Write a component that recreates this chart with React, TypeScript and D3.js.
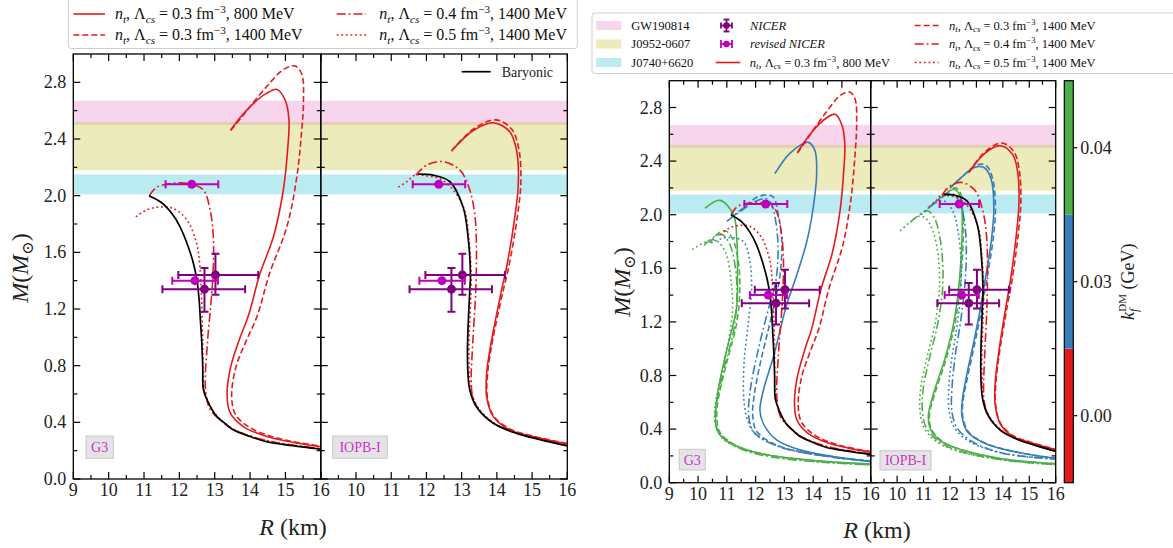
import React from 'react';
import * as d3 from 'd3';

type P = [number, number];

// ---------- data (R in km, M in Msun) ----------
const g3Baryonic: P[] = [[11.14,2.0],[11.5,1.95],[11.8,1.87],[12.02,1.78],[12.25,1.64],[12.4,1.52],[12.5,1.4],[12.56,1.26],[12.6,1.1],[12.63,0.98],[12.66,0.8],[12.68,0.63],[12.78,0.56],[12.9,0.5],[13.06,0.44],[13.3,0.39],[13.53,0.346],[14.0,0.3],[14.47,0.263],[15.2,0.235],[16,0.21]];
const g3Red_03_800: P[] = [[13.45,2.463],[13.75,2.56],[14.09,2.65],[14.45,2.72],[14.76,2.75],[15.0,2.67],[15.1,2.53],[15.06,2.32],[14.94,2.04],[14.66,1.71],[14.28,1.45],[13.95,1.15],[13.72,1.0],[13.45,0.79],[13.35,0.6],[13.43,0.47],[13.81,0.37],[14.47,0.3],[15.2,0.26],[16,0.228]];
const g3Red_03_1400: P[] = [[13.45,2.46],[13.75,2.55],[14.0,2.63],[14.47,2.77],[14.94,2.89],[15.27,2.915],[15.46,2.86],[15.51,2.67],[15.46,2.46],[15.32,2.13],[15.04,1.78],[14.55,1.45],[14.2,1.15],[13.9,0.98],[13.6,0.79],[13.48,0.58],[13.6,0.45],[14.09,0.35],[14.94,0.278],[16,0.232]];
const g3Red_04_1400: P[] = [[11.15,2.0],[11.36,2.06],[11.93,2.09],[12.35,2.08],[12.68,2.04],[12.87,1.9],[12.96,1.71],[12.96,1.5],[12.9,1.26],[12.8,0.98],[12.74,0.63],[12.87,0.49],[13.1,0.43],[13.53,0.35],[14.5,0.27],[16,0.215]];
const g3Red_05_1400: P[] = [[10.77,1.85],[11.08,1.9],[11.45,1.92],[11.83,1.91],[12.21,1.83],[12.49,1.66],[12.58,1.5],[12.63,1.26],[12.66,0.98],[12.7,0.63],[12.82,0.54],[13.08,0.44],[13.55,0.35],[14.5,0.268],[16,0.213]];

const iopbBaryonic: P[] = [[11.77,2.152],[12.19,2.145],[12.66,2.1],[13.04,1.92],[13.18,1.71],[13.25,1.43],[13.23,1.33],[13.17,0.98],[13.17,0.79],[13.23,0.63],[13.42,0.51],[13.9,0.393],[14.56,0.322],[15.2,0.28],[16,0.233]];
const iopbRed_03_800: P[] = [[12.71,2.315],[13.33,2.46],[13.9,2.515],[14.37,2.45],[14.56,2.32],[14.61,2.09],[14.51,1.85],[14.28,1.5],[14.13,1.33],[13.85,0.98],[13.71,0.746],[13.71,0.58],[13.9,0.44],[14.37,0.346],[15.03,0.3],[16,0.247]];
const iopbRed_03_1400: P[] = [[12.71,2.315],[13.33,2.47],[13.97,2.535],[14.42,2.47],[14.63,2.32],[14.68,2.09],[14.58,1.85],[14.34,1.5],[14.18,1.33],[13.88,0.98],[13.74,0.75],[13.73,0.58],[13.92,0.44],[14.4,0.35],[15.05,0.302],[16,0.25]];
const iopbRed_04_1400: P[] = [[11.7,2.145],[12.0,2.215],[12.47,2.24],[12.95,2.18],[13.23,2.04],[13.38,1.85],[13.42,1.62],[13.4,1.33],[13.32,0.98],[13.27,0.7],[13.3,0.6],[13.45,0.5],[13.9,0.395],[14.56,0.325],[16,0.236]];
const iopbRed_05_1400: P[] = [[11.2,2.06],[11.45,2.1],[11.67,2.145],[12.0,2.14],[12.37,2.12],[12.76,2.04],[13.08,1.9],[13.2,1.71],[13.27,1.43],[13.21,0.98],[13.21,0.79],[13.26,0.63],[13.45,0.51],[13.92,0.395],[14.58,0.324],[16,0.235]];

const g3Blue_03_800: P[] = [[12.67,2.307],[13.2,2.46],[13.83,2.54],[14.06,2.48],[14.12,2.3],[14.0,2.05],[13.78,1.8],[13.43,1.55],[13.08,1.33],[12.91,1.19],[12.62,0.94],[12.27,0.69],[12.15,0.54],[12.27,0.44],[12.73,0.32],[13.54,0.245],[14.7,0.195],[16,0.157]];
const g3Blue_03_1400: P[] = [[11.17,1.98],[11.57,2.05],[12.04,2.13],[12.39,2.147],[12.62,2.13],[12.79,2.0],[12.91,1.8],[12.85,1.55],[12.7,1.38],[12.45,1.15],[12.15,0.88],[11.95,0.65],[11.9,0.5],[12.05,0.38],[12.85,0.27],[14.7,0.19],[16,0.163]];
const g3Blue_04_1400: P[] = [[11.0,1.95],[11.5,2.03],[12.0,2.1],[12.35,2.12],[12.55,2.08],[12.7,1.95],[12.78,1.75],[12.7,1.5],[12.45,1.3],[12.1,1.0],[11.82,0.7],[11.76,0.5],[11.93,0.38],[12.8,0.27],[14.7,0.19],[16,0.162]];
const g3Blue_05_1400: P[] = [[10.45,1.79],[11.0,1.83],[11.57,1.8],[11.8,1.65],[11.86,1.45],[11.75,1.2],[11.6,0.9],[11.6,0.6],[11.75,0.45],[12.0,0.36],[12.85,0.27],[14.7,0.19],[16,0.16]];
const g3Green_03_800: P[] = [[10.24,2.047],[10.76,2.107],[11.23,2.0],[11.35,1.8],[11.37,1.55],[11.35,1.33],[11.23,1.19],[10.94,0.94],[10.7,0.69],[10.6,0.5],[10.65,0.4],[10.88,0.33],[11.82,0.235],[13.56,0.175],[16,0.14]];
const g3Green_03_1400: P[] = [[10.4,1.79],[10.7,1.86],[10.95,1.88],[11.2,1.82],[11.4,1.65],[11.45,1.45],[11.35,1.2],[11.0,0.9],[10.7,0.62],[10.65,0.5],[10.75,0.38],[11.3,0.28],[12.6,0.2],[16,0.135]];
const g3Green_04_1400: P[] = [[10.2,1.77],[10.6,1.84],[10.85,1.85],[11.1,1.78],[11.3,1.6],[11.35,1.4],[11.25,1.15],[10.9,0.85],[10.65,0.6],[10.6,0.5],[10.7,0.38],[11.3,0.27],[12.6,0.19],[16,0.133]];
const g3Green_05_1400: P[] = [[9.8,1.74],[10.2,1.79],[10.6,1.81],[10.95,1.72],[11.15,1.5],[11.2,1.3],[11.05,1.05],[10.75,0.75],[10.58,0.55],[10.62,0.42],[10.9,0.32],[11.8,0.24],[13.5,0.17],[16,0.135]];

const iopbBlue_03_800: P[] = [[12.0,2.2],[12.5,2.29],[12.95,2.355],[13.3,2.35],[13.55,2.27],[13.66,2.05],[13.56,1.8],[13.36,1.55],[13.15,1.3],[12.9,1.05],[12.63,0.8],[12.47,0.62],[12.45,0.5],[12.66,0.38],[13.35,0.29],[14.6,0.225],[16,0.182]];
const iopbBlue_03_1400: P[] = [[12.0,2.2],[12.5,2.29],[13.0,2.37],[13.35,2.37],[13.6,2.28],[13.72,2.05],[13.62,1.8],[13.42,1.55],[13.2,1.3],[12.95,1.05],[12.68,0.8],[12.5,0.62],[12.48,0.5],[12.7,0.38],[13.4,0.29],[14.6,0.225],[16,0.182]];
const iopbBlue_04_1400: P[] = [[11.2,2.05],[11.7,2.13],[12.05,2.16],[12.35,2.1],[12.55,1.95],[12.62,1.7],[12.55,1.45],[12.4,1.2],[12.2,0.95],[12.08,0.72],[12.08,0.52],[12.3,0.4],[12.9,0.3],[14,0.22],[16,0.176]];
const iopbBlue_05_1400: P[] = [[10.9,2.0],[11.4,2.08],[11.8,2.1],[12.1,2.03],[12.3,1.88],[12.42,1.65],[12.4,1.4],[12.25,1.15],[12.05,0.9],[11.95,0.7],[11.98,0.52],[12.2,0.4],[12.8,0.3],[14,0.22],[16,0.175]];
const iopbGreen_03_800: P[] = [[11.3,2.07],[11.8,2.15],[12.15,2.19],[12.38,2.14],[12.46,2.0],[12.45,1.8],[12.35,1.5],[12.15,1.2],[11.8,0.92],[11.4,0.68],[11.18,0.5],[11.26,0.4],[11.65,0.31],[12.45,0.245],[14,0.178],[16,0.142]];
const iopbGreen_03_1400: P[] = [[11.3,2.07],[11.8,2.15],[12.2,2.2],[12.42,2.15],[12.5,2.0],[12.5,1.8],[12.4,1.5],[12.2,1.2],[11.85,0.92],[11.45,0.68],[11.22,0.5],[11.3,0.4],[11.7,0.31],[12.5,0.24],[14,0.175],[16,0.14]];
const iopbGreen_04_1400: P[] = [[10.5,1.945],[10.85,2.0],[11.15,2.03],[11.4,1.98],[11.6,1.85],[11.72,1.65],[11.72,1.45],[11.55,1.2],[11.25,0.95],[11.0,0.72],[10.95,0.55],[11.08,0.42],[11.5,0.32],[12.3,0.24],[14,0.17],[16,0.135]];
const iopbGreen_05_1400: P[] = [[10.11,1.88],[10.5,1.945],[10.85,1.99],[11.1,1.97],[11.35,1.88],[11.55,1.7],[11.6,1.45],[11.45,1.2],[11.15,0.95],[10.9,0.72],[10.86,0.55],[11.0,0.42],[11.4,0.32],[12.2,0.24],[14,0.17],[16,0.135]];

// observational constraints
const bandNames = ['GW190814', 'J0952-0607', 'J0740+6620'];
const bandLo = [2.50, 2.18, 2.01];
const bandHi = [2.67, 2.52, 2.15];
const bandColors = ['#e377c2', '#bcbd22', '#17becf'];

const nicerR = [13.02, 12.71];
const nicerM = [1.44, 1.34];
const nicerRlo = [11.97, 11.52];
const nicerRhi = [14.23, 13.86];
const nicerMlo = [1.30, 1.18];
const nicerMhi = [1.59, 1.49];

const revisedR = [12.35, 12.44];
const revisedM = [2.08, 1.40];
const revisedRlo = [11.61, 11.80];
const revisedRhi = [13.10, 13.09];

const kfLabels = ['0.00', '0.03', '0.04'];
const kfColors = ['#e41a1c', '#377eb8', '#4daf4a'];

const xMajor = [9, 10, 11, 12, 13, 14, 15, 16];
const xMinor = [9.5, 10.5, 11.5, 12.5, 13.5, 14.5, 15.5];
const yMajor = [0, 0.4, 0.8, 1.2, 1.6, 2.0, 2.4, 2.8];
const yMinor = [0.2, 0.6, 1.0, 1.4, 1.8, 2.2, 2.6];

// ---------- style ----------
const RED = kfColors[0], BLUE = kfColors[1], GREEN = kfColors[2];
const PURPLE = '#800080', MAGENTA = '#bf00bf';
const SERIF = "'Liberation Serif', 'DejaVu Serif', 'Noto Serif', 'Times New Roman', Times, serif";
const FS = { fontFamily: SERIF } as React.CSSProperties;
const DASH: Record<string, string | undefined> = {
  solid: undefined,
  dashed: '6,3',
  dashdot: '9,3,1.8,3',
  dotted: '1.8,2.8',
};

type Curve = { d: P[]; c: string; s: string; w?: number };

const redG3: Curve[] = [
  { d: g3Red_03_800, c: RED, s: 'solid' },
  { d: g3Red_03_1400, c: RED, s: 'dashed' },
  { d: g3Red_04_1400, c: RED, s: 'dashdot' },
  { d: g3Red_05_1400, c: RED, s: 'dotted' },
];
const redIOPB: Curve[] = [
  { d: iopbRed_03_800, c: RED, s: 'solid' },
  { d: iopbRed_03_1400, c: RED, s: 'dashed' },
  { d: iopbRed_04_1400, c: RED, s: 'dashdot' },
  { d: iopbRed_05_1400, c: RED, s: 'dotted' },
];
const dmG3: Curve[] = [
  { d: g3Green_03_800, c: GREEN, s: 'solid' },
  { d: g3Green_03_1400, c: GREEN, s: 'dashed' },
  { d: g3Green_04_1400, c: GREEN, s: 'dashdot' },
  { d: g3Green_05_1400, c: GREEN, s: 'dotted' },
  { d: g3Blue_03_800, c: BLUE, s: 'solid' },
  { d: g3Blue_03_1400, c: BLUE, s: 'dashed' },
  { d: g3Blue_04_1400, c: BLUE, s: 'dashdot' },
  { d: g3Blue_05_1400, c: BLUE, s: 'dotted' },
];
const dmIOPB: Curve[] = [
  { d: iopbGreen_03_800, c: GREEN, s: 'solid' },
  { d: iopbGreen_03_1400, c: GREEN, s: 'dashed' },
  { d: iopbGreen_04_1400, c: GREEN, s: 'dashdot' },
  { d: iopbGreen_05_1400, c: GREEN, s: 'dotted' },
  { d: iopbBlue_03_800, c: BLUE, s: 'solid' },
  { d: iopbBlue_03_1400, c: BLUE, s: 'dashed' },
  { d: iopbBlue_04_1400, c: BLUE, s: 'dashdot' },
  { d: iopbBlue_05_1400, c: BLUE, s: 'dotted' },
];

type Panel = {
  id: string; x0: number; x1: number; y0: number; y1: number;
  label: string; box: [number, number, number, number];
  curves: Curve[]; black: P[]; yLabels: boolean; firstX: boolean;
  baryLegend?: boolean;
};

const panels: Panel[] = [
  { id: 'p1', x0: 73.3, x1: 320.8, y0: 479, y1: 54, label: 'G3', box: [86, 436, 27.3, 22.3],
    curves: redG3, black: g3Baryonic, yLabels: true, firstX: true },
  { id: 'p2', x0: 320.8, x1: 567.3, y0: 479, y1: 54, label: 'IOPB-I', box: [332.7, 436, 54.6, 22.3],
    curves: redIOPB, black: iopbBaryonic, yLabels: false, firstX: false, baryLegend: true },
  { id: 'p3', x0: 669.3, x1: 870.7, y0: 482.7, y1: 80.7, label: 'G3', box: [679.3, 449.3, 26, 20.7],
    curves: [...dmG3, ...redG3], black: g3Baryonic, yLabels: true, firstX: true },
  { id: 'p4', x0: 870.7, x1: 1055.7, y0: 482.7, y1: 80.7, label: 'IOPB-I', box: [880, 450.7, 51, 19.3],
    curves: [...dmIOPB, ...redIOPB], black: iopbBaryonic, yLabels: false, firstX: false },
];

function NtLabel({ x, y, n, l, fs }: { x: number; y: number; n: string; l: string; fs: number }) {
  const s = fs * 0.7;
  return (
    <text x={x} y={y + fs * 0.33} style={FS} fontSize={fs} fill="#111">
      <tspan fontStyle="italic">n</tspan>
      <tspan fontStyle="italic" fontSize={s} dy={fs * 0.22}>t</tspan>
      <tspan dy={-fs * 0.22}>, Λ</tspan>
      <tspan fontStyle="italic" fontSize={s} dy={fs * 0.22}>cs</tspan>
      <tspan dy={-fs * 0.22}>{` = ${n} fm`}</tspan>
      <tspan fontSize={s} dy={-fs * 0.38}>−3</tspan>
      <tspan dy={fs * 0.38}>{`, ${l} MeV`}</tspan>
    </text>
  );
}

function ErrBar({ sx, sy, r, m, rlo, rhi, mlo, mhi, color, cap, lw, rad }:
  { sx: d3.ScaleLinear<number, number>; sy: d3.ScaleLinear<number, number>; r: number; m: number; rlo: number; rhi: number; mlo?: number; mhi?: number; color: string; cap: number; lw: number; rad: number }) {
  const cx = sx(r), cy = sy(m);
  return (
    <g stroke={color} strokeWidth={lw} fill={color}>
      <line x1={sx(rlo)} x2={sx(rhi)} y1={cy} y2={cy} />
      <line x1={sx(rlo)} x2={sx(rlo)} y1={cy - cap} y2={cy + cap} />
      <line x1={sx(rhi)} x2={sx(rhi)} y1={cy - cap} y2={cy + cap} />
      {mlo !== undefined && mhi !== undefined && (
        <>
          <line x1={cx} x2={cx} y1={sy(mlo)} y2={sy(mhi)} />
          <line x1={cx - cap} x2={cx + cap} y1={sy(mlo)} y2={sy(mlo)} />
          <line x1={cx - cap} x2={cx + cap} y1={sy(mhi)} y2={sy(mhi)} />
        </>
      )}
      <circle cx={cx} cy={cy} r={rad} stroke="none" />
    </g>
  );
}

function PanelView({ p }: { p: Panel }) {
  const sx = d3.scaleLinear().domain([9, 16]).range([p.x0, p.x1]);
  const sy = d3.scaleLinear().domain([0, 3]).range([p.y0, p.y1]);
  const line = d3.line<P>().x(d => sx(d[0])).y(d => sy(d[1])).curve(d3.curveCatmullRom.alpha(0.5));
  const maj = 7, min = 4;
  return (
    <g>
      <defs>
        <clipPath id={`clip-${p.id}`}>
          <rect x={p.x0} y={p.y1} width={p.x1 - p.x0} height={p.y0 - p.y1} />
        </clipPath>
      </defs>
      <g clipPath={`url(#clip-${p.id})`}>
        {bandNames.map((n, i) => (
          <rect key={n} x={p.x0} width={p.x1 - p.x0} y={sy(bandHi[i])} height={sy(bandLo[i]) - sy(bandHi[i])}
            fill={bandColors[i]} fillOpacity={0.3} />
        ))}
        {p.curves.map((c, i) => (
          <path key={i} d={line(c.d) || ''} fill="none" stroke={c.c} strokeWidth={c.w ?? 1.6}
            strokeDasharray={DASH[c.s]} />
        ))}
        <path d={line(p.black) || ''} fill="none" stroke="#000" strokeWidth={1.7} />
        {nicerR.map((r, i) => (
          <ErrBar key={'n' + i} sx={sx} sy={sy} r={r} m={nicerM[i]} rlo={nicerRlo[i]} rhi={nicerRhi[i]}
            mlo={nicerMlo[i]} mhi={nicerMhi[i]} color={PURPLE} cap={4} lw={2} rad={4.5} />
        ))}
        {revisedR.map((r, i) => (
          <ErrBar key={'r' + i} sx={sx} sy={sy} r={r} m={revisedM[i]} rlo={revisedRlo[i]} rhi={revisedRhi[i]}
            color={MAGENTA} cap={4} lw={2} rad={4.5} />
        ))}
      </g>
      <rect x={p.x0} y={p.y1} width={p.x1 - p.x0} height={p.y0 - p.y1} fill="none" stroke="#000" strokeWidth={1.3} />
      <g stroke="#000" strokeWidth={1.2}>
        {xMajor.map(v => (
          <g key={'xM' + v}>
            <line x1={sx(v)} x2={sx(v)} y1={p.y0} y2={p.y0 - maj} />
            <line x1={sx(v)} x2={sx(v)} y1={p.y1} y2={p.y1 + maj} />
          </g>
        ))}
        {xMinor.map(v => (
          <g key={'xm' + v}>
            <line x1={sx(v)} x2={sx(v)} y1={p.y0} y2={p.y0 - min} />
            <line x1={sx(v)} x2={sx(v)} y1={p.y1} y2={p.y1 + min} />
          </g>
        ))}
        {yMajor.map(v => (
          <g key={'yM' + v}>
            <line x1={p.x0} x2={p.x0 + maj} y1={sy(v)} y2={sy(v)} />
            <line x1={p.x1} x2={p.x1 - maj} y1={sy(v)} y2={sy(v)} />
          </g>
        ))}
        {yMinor.map(v => (
          <g key={'ym' + v}>
            <line x1={p.x0} x2={p.x0 + min} y1={sy(v)} y2={sy(v)} />
            <line x1={p.x1} x2={p.x1 - min} y1={sy(v)} y2={sy(v)} />
          </g>
        ))}
      </g>
      <g style={FS} fontSize={18} fill="#222">
        {xMajor.filter(v => p.firstX || v > 9).map(v => (
          <text key={'xl' + v} x={sx(v)} y={p.y0 + 17} textAnchor="middle" style={FS}>{v}</text>
        ))}
        {p.yLabels && yMajor.map(v => (
          <text key={'yl' + v} x={p.x0 - 7} y={sy(v) + 6} textAnchor="end" style={FS}>{v.toFixed(1)}</text>
        ))}
      </g>
      <rect x={p.box[0]} y={p.box[1]} width={p.box[2]} height={p.box[3]} fill="#e4e4e4" stroke="#c8c8c8" strokeWidth={1} />
      <text x={p.box[0] + p.box[2] / 2} y={p.box[1] + p.box[3] / 2 + 5} textAnchor="middle"
        style={FS} fontSize={14} fill="#cc33cc">{p.label}</text>
      {p.baryLegend && (
        <g>
          <line x1={461.7} x2={490.7} y1={71.7} y2={71.7} stroke="#000" strokeWidth={1.7} />
          <text x={501.7} y={76.5} style={FS} fontSize={14} fill="#222">Baryonic</text>
        </g>
      )}
    </g>
  );
}

function MLabel({ x, y }: { x: number; y: number }) {
  return (
    <text transform={`translate(${x},${y}) rotate(-90)`} textAnchor="middle" style={FS} fontSize={24} fill="#222">
      <tspan fontStyle="italic">M</tspan>
      <tspan>(</tspan>
      <tspan fontStyle="italic">M</tspan>
      <tspan fontSize={16} dy={5}>⊙</tspan>
      <tspan dy={-5}>)</tspan>
    </text>
  );
}

function RLabel({ x, y }: { x: number; y: number }) {
  return (
    <text x={x} y={y} textAnchor="middle" style={FS} fontSize={24} fill="#222">
      <tspan fontStyle="italic">R</tspan>
      <tspan> (km)</tspan>
    </text>
  );
}

export default function App() {
  const cbX = 1064.3, cbW = 9, cbTop = 80.7, cbBot = 482.7;
  const cbY = d3.scaleLinear().domain([0, 3]).range([cbBot, cbTop]);
  const fsL = 16, fsR = 12.5;
  const rowsL = [14, 35];
  const rowsR = [25.5, 44, 62.5];
  return (
    <div style={{ position: 'absolute', left: 0, top: 0 }}>
      <svg width={1173} height={548} viewBox="0 0 1173 548" style={{ display: 'block', background: '#fff', fontFamily: SERIF }}>
        {panels.map(p => <PanelView key={p.id} p={p} />)}

        <MLabel x={28} y={268} />
        <MLabel x={630} y={282} />
        <RLabel x={293} y={535} />
        <RLabel x={877} y={538} />

        {/* left legend */}
        <rect x={68.3} y={-3} width={509} height={51.5} rx={3} fill="#fff" stroke="#cfcfcf" strokeWidth={1} />
        <g stroke={RED} strokeWidth={1.6}>
          <line x1={73.3} x2={105} y1={rowsL[0]} y2={rowsL[0]} />
          <line x1={73.3} x2={105} y1={rowsL[1]} y2={rowsL[1]} strokeDasharray={DASH.dashed} />
          <line x1={336.7} x2={366} y1={rowsL[0]} y2={rowsL[0]} strokeDasharray={DASH.dashdot} />
          <line x1={336.7} x2={366} y1={rowsL[1]} y2={rowsL[1]} strokeDasharray={DASH.dotted} />
        </g>
        <NtLabel x={115} y={rowsL[0]} n="0.3" l="800" fs={fsL} />
        <NtLabel x={115} y={rowsL[1]} n="0.3" l="1400" fs={fsL} />
        <NtLabel x={379.3} y={rowsL[0]} n="0.4" l="1400" fs={fsL} />
        <NtLabel x={379.3} y={rowsL[1]} n="0.5" l="1400" fs={fsL} />

        {/* right legend */}
        <rect x={592} y={13} width={590} height={60.5} rx={3} fill="#fff" stroke="#cfcfcf" strokeWidth={1} />
        {bandNames.map((n, i) => (
          <g key={n}>
            <rect x={596.3} y={rowsR[i] - 4.5} width={25} height={9} fill={bandColors[i]} fillOpacity={0.3} />
            <text x={631.3} y={rowsR[i] + 4.2} style={FS} fontSize={fsR} fill="#111">{n}</text>
          </g>
        ))}
        <g stroke={PURPLE} fill={PURPLE} strokeWidth={1.8}>
          <line x1={721} x2={732} y1={rowsR[0]} y2={rowsR[0]} />
          <line x1={721} x2={721} y1={rowsR[0] - 3} y2={rowsR[0] + 3} />
          <line x1={732} x2={732} y1={rowsR[0] - 3} y2={rowsR[0] + 3} />
          <line x1={726.5} x2={726.5} y1={rowsR[0] - 6} y2={rowsR[0] + 6} />
          <line x1={723.5} x2={729.5} y1={rowsR[0] - 6} y2={rowsR[0] - 6} />
          <line x1={723.5} x2={729.5} y1={rowsR[0] + 6} y2={rowsR[0] + 6} />
          <circle cx={726.5} cy={rowsR[0]} r={3.3} stroke="none" />
        </g>
        <text x={750} y={rowsR[0] + 4.2} style={FS} fontStyle="italic" fontSize={fsR} fill="#111">NICER</text>
        <g stroke={MAGENTA} fill={MAGENTA} strokeWidth={1.8}>
          <line x1={721} x2={732} y1={rowsR[1]} y2={rowsR[1]} />
          <line x1={721} x2={721} y1={rowsR[1] - 4} y2={rowsR[1] + 4} />
          <line x1={732} x2={732} y1={rowsR[1] - 4} y2={rowsR[1] + 4} />
          <circle cx={726.5} cy={rowsR[1]} r={3.3} stroke="none" />
        </g>
        <text x={750} y={rowsR[1] + 4.2} style={FS} fontStyle="italic" fontSize={fsR} fill="#111">revised NICER</text>
        <line x1={715.7} x2={740.3} y1={rowsR[2]} y2={rowsR[2]} stroke={RED} strokeWidth={1.6} />
        <NtLabel x={749.7} y={rowsR[2]} n="0.3" l="800" fs={fsR} />
        <g stroke={RED} strokeWidth={1.6}>
          <line x1={914.7} x2={938.7} y1={rowsR[0]} y2={rowsR[0]} strokeDasharray={DASH.dashed} />
          <line x1={914.7} x2={938.7} y1={rowsR[1]} y2={rowsR[1]} strokeDasharray={DASH.dashdot} />
          <line x1={914.7} x2={938.7} y1={rowsR[2]} y2={rowsR[2]} strokeDasharray={DASH.dotted} />
        </g>
        <NtLabel x={949} y={rowsR[0]} n="0.3" l="1400" fs={fsR} />
        <NtLabel x={949} y={rowsR[1]} n="0.4" l="1400" fs={fsR} />
        <NtLabel x={949} y={rowsR[2]} n="0.5" l="1400" fs={fsR} />

        {/* colorbar */}
        {kfLabels.map((k, i) => (
          <rect key={k} x={cbX} width={cbW} y={cbY(i + 1)} height={cbY(i) - cbY(i + 1)} fill={kfColors[i]} />
        ))}
        <rect x={cbX} y={cbTop} width={cbW} height={cbBot - cbTop} fill="none" stroke="#000" strokeWidth={1.2} />
        {kfLabels.map((k, i) => (
          <g key={'t' + k}>
            <line x1={cbX + cbW} x2={cbX + cbW + 4} y1={cbY(i + 0.5)} y2={cbY(i + 0.5)} stroke="#000" strokeWidth={1.2} />
            <text x={cbX + cbW + 7} y={cbY(i + 0.5) + 6} style={FS} fontSize={18} fill="#222">{k}</text>
          </g>
        ))}
        <text transform={`translate(1134,${(cbTop + cbBot) / 2}) rotate(-90)`} textAnchor="middle" style={FS} fontSize={18} fill="#222">
          <tspan fontStyle="italic">k</tspan>
          <tspan fontStyle="italic" fontSize={12} dy={4}>f</tspan>
          <tspan fontSize={11} dy={-12} dx={-3}>DM</tspan>
          <tspan dy={8}> (GeV)</tspan>
        </text>
      </svg>
    </div>
  );
}
